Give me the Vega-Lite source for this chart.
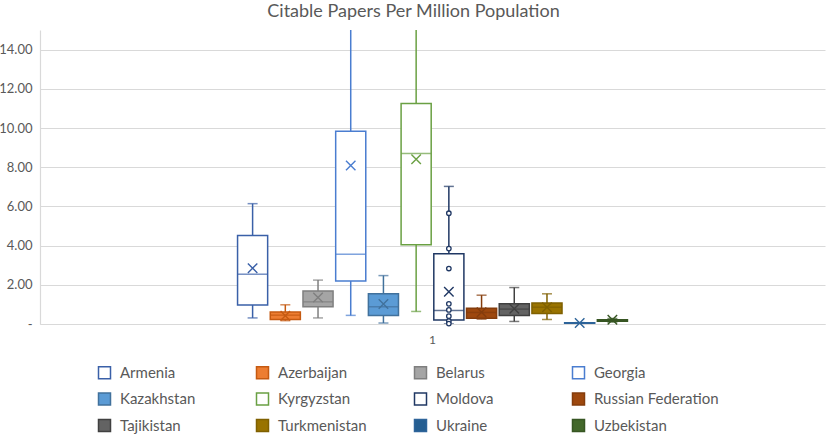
{
  "$schema": "https://vega.github.io/schema/vega-lite/v6.json",
  "width": 785,
  "height": 294,
  "autosize": {"type": "none"},
  "padding": {"left": 40, "top": 30, "right": 4, "bottom": 114},
  "title": {
    "text": "Citable Papers Per Million Population",
    "font": "Lato",
    "fontSize": 18,
    "fontWeight": "normal",
    "color": "#595959",
    "anchor": "middle",
    "offset": 9,
    "dx": -19
  },
  "datasets": {
    "boxes": [
      {"cat": "1", "country": "Armenia", "min": 0.31, "q1": 0.97, "median": 2.54, "q3": 4.51, "max": 6.14, "mean": 2.85},
      {"cat": "1", "country": "Azerbaijan", "min": 0.17, "q1": 0.23, "median": 0.45, "q3": 0.61, "max": 0.98, "mean": 0.42},
      {"cat": "1", "country": "Belarus", "min": 0.31, "q1": 0.88, "median": 1.13, "q3": 1.69, "max": 2.24, "mean": 1.35},
      {"cat": "1", "country": "Georgia", "min": 0.44, "q1": 2.2, "median": 3.56, "q3": 9.84, "max": 25, "mean": 8.09},
      {"cat": "1", "country": "Kazakhstan", "min": 0.05, "q1": 0.44, "median": 0.88, "q3": 1.54, "max": 2.47, "mean": 1.02},
      {"cat": "1", "country": "Kyrgyzstan", "min": 0.64, "q1": 4.04, "median": 8.7, "q3": 11.25, "max": 22, "mean": 8.41},
      {"cat": "1", "country": "Moldova", "min": 0.0, "q1": 0.2, "median": 0.69, "q3": 3.58, "max": 7.02, "mean": 1.64},
      {"cat": "1", "country": "Russian Federation", "min": 0.25, "q1": 0.29, "median": 0.59, "q3": 0.8, "max": 1.47, "mean": 0.6},
      {"cat": "1", "country": "Tajikistan", "min": 0.13, "q1": 0.44, "median": 0.76, "q3": 1.03, "max": 1.86, "mean": 0.78},
      {"cat": "1", "country": "Turkmenistan", "min": 0.23, "q1": 0.54, "median": 0.85, "q3": 1.07, "max": 1.54, "mean": 0.85},
      {"cat": "1", "country": "Ukraine", "min": 0.03, "q1": 0.04, "median": 0.05, "q3": 0.06, "max": 0.07, "mean": 0.05},
      {"cat": "1", "country": "Uzbekistan", "min": 0.1, "q1": 0.14, "median": 0.18, "q3": 0.22, "max": 0.28, "mean": 0.22}
    ],
    "moldova": [
      {"cat": "1", "country": "Moldova", "value": 5.65},
      {"cat": "1", "country": "Moldova", "value": 3.85},
      {"cat": "1", "country": "Moldova", "value": 2.83},
      {"cat": "1", "country": "Moldova", "value": 1.03},
      {"cat": "1", "country": "Moldova", "value": 0.72},
      {"cat": "1", "country": "Moldova", "value": 0.4},
      {"cat": "1", "country": "Moldova", "value": 0.15},
      {"cat": "1", "country": "Moldova", "value": 0.02}
    ]
  },
  "data": {"name": "boxes"},
  "encoding": {
    "x": {
      "field": "cat",
      "type": "nominal",
      "scale": {"paddingInner": 0, "paddingOuter": 0.5},
      "axis": {
        "title": null,
        "labelAngle": 0,
        "ticks": false,
        "labelPadding": 10,
        "labelFont": "Lato",
        "labelFontSize": 12,
        "labelColor": "#595959",
        "domainColor": "#D9D9D9",
        "domainWidth": 1.2
      }
    },
    "xOffset": {
      "field": "country",
      "type": "nominal",
      "sort": ["Armenia", "Azerbaijan", "Belarus", "Georgia", "Kazakhstan", "Kyrgyzstan", "Moldova", "Russian Federation", "Tajikistan", "Turkmenistan", "Ukraine", "Uzbekistan"],
      "scale": {"paddingInner": 0.08, "paddingOuter": 0.04}
    }
  },
  "layer": [
    {
      "mark": {"type": "rule", "clip": true, "strokeWidth": 1.5},
      "encoding": {
        "y": {
          "field": "min",
          "type": "quantitative",
          "scale": {"domain": [0, 15], "nice": false, "zero": true},
          "axis": {
            "title": null,
            "values": [0, 2, 4, 6, 8, 10, 12, 14],
            "labelExpr": "datum.value == 0 ? '-' : format(datum.value, '.2f')",
            "ticks": false,
            "labelPadding": 8,
            "labelFont": "Lato",
            "labelFontSize": 13,
            "labelColor": "#595959",
            "gridColor": "#D9D9D9",
            "gridWidth": 1.2,
            "domainColor": "#D9D9D9",
            "domainWidth": 1.2
          }
        },
        "y2": {"field": "max"},
        "stroke": {
          "field": "country",
          "type": "nominal",
          "scale": {
            "domain": ["Armenia", "Kazakhstan", "Tajikistan", "Azerbaijan", "Kyrgyzstan", "Turkmenistan", "Belarus", "Moldova", "Ukraine", "Georgia", "Russian Federation", "Uzbekistan"],
            "range": ["#3A60A8", "#41719C", "#404040", "#C55A11", "#6AA043", "#7F6000", "#7F7F7F", "#203864", "#2E649A", "#4A7DD0", "#843C0C", "#375623"]
          }
        }
      }
    },
    {
      "mark": {"type": "tick", "clip": true, "size": 10, "thickness": 1.5, "orient": "horizontal"},
      "encoding": {
        "y": {"field": "min", "type": "quantitative"},
        "color": {
          "field": "country",
          "type": "nominal",
          "scale": {
            "domain": ["Armenia", "Azerbaijan", "Belarus", "Georgia", "Kazakhstan", "Kyrgyzstan", "Moldova", "Russian Federation", "Tajikistan", "Turkmenistan", "Ukraine", "Uzbekistan"],
            "range": ["#3A60A8", "#C55A11", "#7F7F7F", "#4A7DD0", "#41719C", "#6AA043", "#203864", "#843C0C", "#404040", "#7F6000", "#2E649A", "#375623"]
          },
          "legend": null
        }
      }
    },
    {
      "mark": {"type": "tick", "clip": true, "size": 10, "thickness": 1.5, "orient": "horizontal"},
      "encoding": {
        "y": {"field": "max", "type": "quantitative"},
        "color": {"field": "country", "type": "nominal", "legend": null}
      }
    },
    {
      "mark": {"type": "bar", "clip": true, "strokeWidth": 1.5},
      "encoding": {
        "y": {"field": "q1", "type": "quantitative"},
        "y2": {"field": "q3"},
        "fill": {
          "field": "country",
          "type": "nominal",
          "scale": {
            "domain": ["Armenia", "Kazakhstan", "Tajikistan", "Azerbaijan", "Kyrgyzstan", "Turkmenistan", "Belarus", "Moldova", "Ukraine", "Georgia", "Russian Federation", "Uzbekistan"],
            "range": ["#FFFFFF", "#5B9BD5", "#636363", "#ED7D31", "#FFFFFF", "#997300", "#A5A5A5", "#FFFFFF", "#255E91", "#FFFFFF", "#9E480E", "#43682B"]
          },
          "legend": {
            "orient": "none",
            "legendX": 57,
            "legendY": 335,
            "title": null,
            "columns": 4,
            "gridAlign": "all",
            "columnPadding": 8,
            "rowPadding": 7.5,
            "symbolType": "square",
            "symbolSize": 144,
            "symbolStrokeWidth": 1.5,
            "labelFont": "Lato",
            "labelFontSize": 15,
            "labelColor": "#595959",
            "labelOffset": 8,
            "labelLimit": 300,
            "padding": 0
          }
        },
        "stroke": {"field": "country", "type": "nominal"}
      }
    },
    {
      "mark": {"type": "tick", "clip": true, "size": 30, "thickness": 1.5, "orient": "horizontal"},
      "encoding": {
        "y": {"field": "median", "type": "quantitative"},
        "color": {"field": "country", "type": "nominal", "legend": null}
      }
    },
    {
      "mark": {"type": "point", "shape": "M-1,-1L1,1M1,-1L-1,1", "filled": false, "size": 90, "strokeWidth": 1.4, "opacity": 1},
      "encoding": {
        "y": {"field": "mean", "type": "quantitative"},
        "stroke": {"field": "country", "type": "nominal"}
      }
    },
    {
      "data": {"name": "moldova"},
      "mark": {"type": "point", "shape": "circle", "filled": true, "fill": "white", "size": 20, "strokeWidth": 1.3, "opacity": 1},
      "encoding": {
        "y": {"field": "value", "type": "quantitative"},
        "stroke": {"field": "country", "type": "nominal"}
      }
    }
  ],
  "config": {
    "view": {"stroke": null},
    "axis": {"grid": false},
    "axisY": {"grid": true},
    "legend": {
      "orient": "none",
      "legendX": 57,
      "legendY": 335,
      "title": null,
      "columns": 4,
      "gridAlign": "all",
      "columnPadding": 8,
      "rowPadding": 7.5,
      "symbolType": "square",
      "symbolSize": 144,
      "symbolStrokeWidth": 1.5,
      "labelFont": "Lato",
      "labelFontSize": 15,
      "labelColor": "#595959",
      "labelOffset": 8,
      "labelLimit": 300,
      "padding": 0
    }
  }
}
